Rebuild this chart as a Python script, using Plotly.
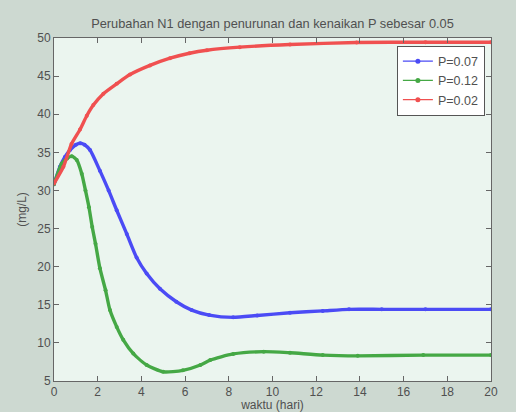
import plotly.graph_objects as go

# ---- data ----
x_p007 = [0, 0.27, 0.5, 0.73, 1.0, 1.2, 1.4, 1.65, 2.1, 2.5, 2.87, 3.33, 3.78, 4.24, 4.85, 5.6, 6.3, 7.1, 8.2, 9.3, 10.8, 12.3, 13.5, 15, 17, 20]
y_p007 = [30.8, 33.1, 34.4, 35.3, 36.0, 36.2, 36.0, 35.3, 32.6, 30.0, 27.4, 24.3, 21.2, 19.1, 17.1, 15.4, 14.3, 13.65, 13.35, 13.6, 13.95, 14.2, 14.4, 14.4, 14.4, 14.4]

x_p012 = [0, 0.35, 0.6, 0.81, 1.04, 1.27, 1.44, 1.6, 1.75, 1.9, 2.1, 2.36, 2.56, 2.87, 3.17, 3.63, 4.24, 5.0, 5.9, 6.7, 7.15, 8.2, 9.6, 10.8, 12.3, 13.9, 16.9, 20]
y_p012 = [30.8, 33.5, 34.2, 34.5, 34.0, 32.2, 30.0, 27.8, 25.2, 23.0, 19.8, 16.9, 14.3, 12.1, 10.4, 8.6, 7.1, 6.2, 6.4, 7.1, 7.75, 8.55, 8.85, 8.7, 8.4, 8.3, 8.4, 8.4]

x_p002 = [0, 0.43, 0.8, 1.19, 1.5, 1.8, 2.26, 2.87, 3.48, 4.39, 5.31, 6.2, 7.0, 8.5, 10.8, 13.85, 17, 20]
y_p002 = [30.9, 33.1, 36.1, 38.0, 39.8, 41.2, 42.7, 44.0, 45.2, 46.4, 47.35, 48.0, 48.4, 48.8, 49.15, 49.4, 49.45, 49.45]

series = [
    ("P=0.07", x_p007, y_p007, "#4b4bf5"),
    ("P=0.12", x_p012, y_p012, "#45a845"),
    ("P=0.02", x_p002, y_p002, "#f05050"),
]

x_ticks = [0, 2, 4, 6, 8, 10, 12, 14, 16, 18, 20]
y_ticks = [5, 10, 15, 20, 25, 30, 35, 40, 45, 50]

FONT = "Liberation Sans, Arial, sans-serif"

fig = go.Figure()
for name, xs, ys, col in series:
    fig.add_trace(go.Scatter(
        x=xs, y=ys, name=name, mode="lines+markers", showlegend=False,
        line=dict(color=col, width=3.4, shape="spline", smoothing=0.6),
        marker=dict(color=col, size=4),
    ))
# legend entries with thin line + dot marker (as in the MATLAB legend)
for name, xs, ys, col in series:
    fig.add_trace(go.Scatter(
        x=[None], y=[None], name=name, mode="lines+markers", showlegend=True,
        line=dict(color=col, width=1.2),
        marker=dict(color=col, size=5),
    ))

axis_common = dict(
    showgrid=False, zeroline=False, showline=True, linecolor="#666666", linewidth=1,
    mirror="ticks", ticks="inside", ticklen=5, tickcolor="#666666",
    tickfont=dict(family=FONT, size=12, color="#505050"),
)

fig.update_layout(
    width=516, height=412,
    margin=dict(l=54, r=25, t=38, b=31),
    paper_bgcolor="#cdd9d1",
    plot_bgcolor="#ebf5ef",
    font=dict(family=FONT, color="#505050"),
    title=dict(text="Perubahan N1 dengan penurunan dan kenaikan P sebesar 0.05",
               x=(54 + 491) / 2 / 516, xanchor="center", y=1 - 24 / 412, yanchor="middle",
               font=dict(family=FONT, size=12.8, color="#505050")),
    xaxis=dict(range=[0, 20], tickvals=x_ticks, automargin=False,
               title=dict(text="waktu (hari)", standoff=4, font=dict(family=FONT, size=12, color="#505050")),
               **axis_common),
    yaxis=dict(range=[5, 50], tickvals=y_ticks, automargin=False,
               title=dict(text="(mg/L)", standoff=8, font=dict(family=FONT, size=12, color="#505050")),
               **axis_common),
    legend=dict(x=0.986, xanchor="right", y=0.978, yanchor="top",
                bgcolor="#ffffff", bordercolor="#555555", borderwidth=1,
                font=dict(family=FONT, size=12.5, color="#505050"),
                tracegroupgap=0, itemwidth=30),
    showlegend=True,
)

fig.write_html("out.html")
